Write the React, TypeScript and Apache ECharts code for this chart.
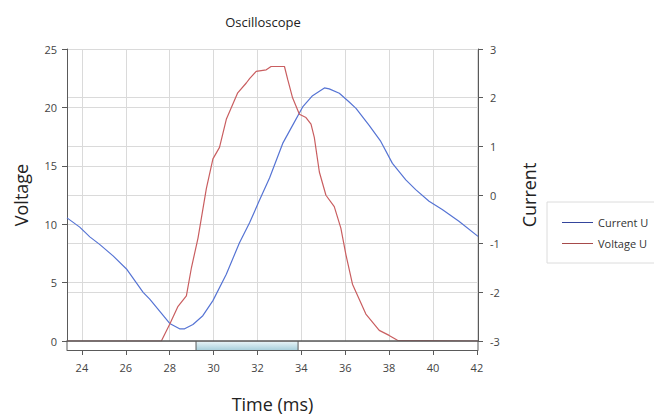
import React, { useEffect, useRef } from 'react';
import * as echarts from 'echarts';

// Time (ms) and values
const currentTime = [23.32, 23.9, 24.36, 24.82, 25.42, 26.03, 26.79, 27.09, 27.55, 28.0, 28.45, 28.68, 29.06, 29.51, 29.97, 30.58, 31.18, 31.64, 32.09, 32.55, 33.15, 33.6, 34.06, 34.51, 35.05, 35.27, 35.73, 36.18, 36.49, 37.09, 37.62, 38.15, 38.76, 39.21, 39.82, 40.42, 41.18, 42.05];
const currentValues = [-0.47, -0.66, -0.86, -1.02, -1.25, -1.52, -2.0, -2.14, -2.39, -2.64, -2.75, -2.75, -2.66, -2.48, -2.17, -1.63, -0.98, -0.57, -0.11, 0.35, 1.06, 1.43, 1.81, 2.04, 2.2, 2.18, 2.09, 1.91, 1.78, 1.43, 1.1, 0.65, 0.31, 0.11, -0.13, -0.3, -0.54, -0.85];

const voltageTime = [23.32, 27.62, 28.0, 28.38, 28.76, 28.99, 29.29, 29.67, 29.97, 30.27, 30.58, 31.1, 31.49, 31.64, 31.94, 32.4, 32.62, 33.23, 33.38, 33.6, 33.91, 34.21, 34.44, 34.59, 34.82, 35.12, 35.5, 35.8, 36.03, 36.33, 36.94, 37.55, 38.0, 38.38, 42.05];
const voltageValues = [0, 0, 1.44, 2.97, 3.87, 6.27, 8.81, 13.05, 15.59, 16.58, 18.98, 21.25, 22.09, 22.46, 23.08, 23.22, 23.5, 23.5, 22.37, 20.82, 19.41, 19.13, 18.56, 17.43, 14.47, 12.48, 11.5, 9.66, 7.4, 4.86, 2.31, 0.91, 0.48, 0.06, 0];

const xTicks = [24, 26, 28, 30, 32, 34, 36, 38, 40, 42];
const xMin = 23.32;
const xMax = 42.05;
const scrollStart = 29.2;
const scrollEnd = 33.85;

const FONT = '"Open Sans", "Noto Sans", sans-serif';
const AXIS_COLOR = '#5a5a5a';
const GRID_COLOR = '#dadada';
const LABEL_COLOR = '#444';

export default function App() {
  const ref = useRef<HTMLDivElement>(null);

  useEffect(() => {
    if (!ref.current) return;
    const chart = echarts.init(ref.current, undefined, { renderer: 'svg' });
    const currentData = currentTime.map((t, i) => [t, currentValues[i]]);
    const voltageData = voltageTime.map((t, i) => [t, voltageValues[i]]);

    chart.setOption({
      animation: false,
      backgroundColor: '#ffffff',
      textStyle: { fontFamily: FONT },
      title: {
        text: 'Oscilloscope',
        left: 263,
        top: 15,
        textAlign: 'center',
        padding: 0,
        textStyle: { fontFamily: FONT, fontSize: 13, fontWeight: 'normal', color: '#222' },
      },
      legend: {
        orient: 'vertical',
        left: 547,
        top: 202,
        padding: [14, 24, 13, 15],
        icon: 'rect',
        itemWidth: 31,
        itemHeight: 1,
        itemGap: 8,
        borderColor: '#dcdcdc',
        borderWidth: 1,
        textStyle: { fontFamily: FONT, fontSize: 11, color: '#333', lineHeight: 13 },
        data: [
          { name: 'Current U', itemStyle: { color: '#34459c' } },
          { name: 'Voltage U', itemStyle: { color: '#a64a4a' } },
        ],
      },
      grid: { left: 67, right: 176, top: 49, bottom: 74 },
      xAxis: [
        {
          type: 'value',
          min: xMin,
          max: xMax,
          offset: 9,
          name: 'Time (ms)',
          nameLocation: 'middle',
          nameGap: 45,
          nameTextStyle: { fontFamily: FONT, fontSize: 18, color: '#222' },
          axisLine: { show: true, onZero: false, lineStyle: { color: AXIS_COLOR, width: 1 } },
          axisTick: { show: true, length: 5, customValues: xTicks, lineStyle: { color: AXIS_COLOR } },
          axisLabel: { customValues: xTicks, margin: 12, fontSize: 11, color: LABEL_COLOR, fontFamily: FONT },
          splitLine: { show: true, lineStyle: { color: GRID_COLOR, width: 1 } },
        },
        {
          type: 'value',
          min: xMin,
          max: xMax,
          position: 'bottom',
          offset: 0,
          z: 6,
          axisLine: { show: true, onZero: false, lineStyle: { color: AXIS_COLOR, width: 1.5 } },
          axisTick: { show: false },
          axisLabel: { show: false },
          splitLine: { show: false },
        },
      ],
      yAxis: [
        {
          type: 'value',
          min: 0,
          max: 25,
          interval: 5,
          position: 'left',
          name: 'Voltage',
          nameLocation: 'middle',
          nameGap: 37,
          nameTextStyle: { fontFamily: FONT, fontSize: 18, color: '#222' },
          axisLine: { show: true, onZero: false, lineStyle: { color: AXIS_COLOR, width: 1 } },
          axisTick: { show: true, length: 5, lineStyle: { color: AXIS_COLOR } },
          axisLabel: { margin: 10, fontSize: 11, color: LABEL_COLOR, fontFamily: FONT },
          splitLine: { show: true, lineStyle: { color: GRID_COLOR, width: 1 } },
        },
        {
          type: 'value',
          min: -3,
          max: 3,
          interval: 1,
          position: 'right',
          name: 'Current',
          nameLocation: 'middle',
          nameGap: 42,
          nameTextStyle: { fontFamily: FONT, fontSize: 18, color: '#222' },
          axisLine: { show: true, onZero: false, lineStyle: { color: AXIS_COLOR, width: 1 } },
          axisTick: { show: true, length: 5, lineStyle: { color: AXIS_COLOR } },
          axisLabel: { margin: 12, fontSize: 11, color: LABEL_COLOR, fontFamily: FONT },
          splitLine: { show: true, lineStyle: { color: GRID_COLOR, width: 1 } },
        },
      ],
      series: [
        {
          name: 'Current U',
          type: 'line',
          xAxisIndex: 0,
          yAxisIndex: 1,
          data: currentData,
          symbol: 'none',
          color: '#5674d4',
          lineStyle: { color: '#5674d4', width: 1.2 },
          z: 3,
        },
        {
          name: 'Voltage U',
          type: 'line',
          xAxisIndex: 0,
          yAxisIndex: 0,
          data: voltageData,
          symbol: 'none',
          color: '#c95e60',
          lineStyle: { color: '#c95e60', width: 1.2 },
          z: 4,
        },
      ],
    });

    // scrollbar band between the zero line and the offset time axis
    const p0 = chart.convertToPixel({ xAxisIndex: 0, yAxisIndex: 0 }, [xMin, 0]) as number[];
    const p1 = chart.convertToPixel({ xAxisIndex: 0, yAxisIndex: 0 }, [xMax, 0]) as number[];
    const s0 = chart.convertToPixel({ xAxisIndex: 0, yAxisIndex: 0 }, [scrollStart, 0]) as number[];
    const s1 = chart.convertToPixel({ xAxisIndex: 0, yAxisIndex: 0 }, [scrollEnd, 0]) as number[];
    const yTop = p0[1];
    const band = 9;
    chart.setOption({
      graphic: [
        {
          type: 'rect',
          shape: { x: s0[0], y: yTop + 1, width: s1[0] - s0[0], height: band - 1 },
          style: {
            fill: new echarts.graphic.LinearGradient(0, 0, 0, 1, [
              { offset: 0, color: '#e4f2f6' },
              { offset: 1, color: '#a9d0dc' },
            ]),
          },
          z: 10,
        },
        { type: 'line', shape: { x1: s0[0], y1: yTop, x2: s0[0], y2: yTop + band }, style: { stroke: AXIS_COLOR, lineWidth: 1 }, z: 11 },
        { type: 'line', shape: { x1: s1[0], y1: yTop, x2: s1[0], y2: yTop + band }, style: { stroke: AXIS_COLOR, lineWidth: 1 }, z: 11 },
        { type: 'line', shape: { x1: p0[0], y1: yTop, x2: p0[0], y2: yTop + band }, style: { stroke: AXIS_COLOR, lineWidth: 1 }, z: 11 },
        { type: 'line', shape: { x1: p1[0], y1: yTop, x2: p1[0], y2: yTop + band }, style: { stroke: AXIS_COLOR, lineWidth: 1 }, z: 11 },
      ],
    });

    return () => chart.dispose();
  }, []);

  return (
    <div
      ref={ref}
      style={{ position: 'fixed', left: 0, top: 0, width: 654, height: 418, background: '#fff' }}
    />
  );
}
